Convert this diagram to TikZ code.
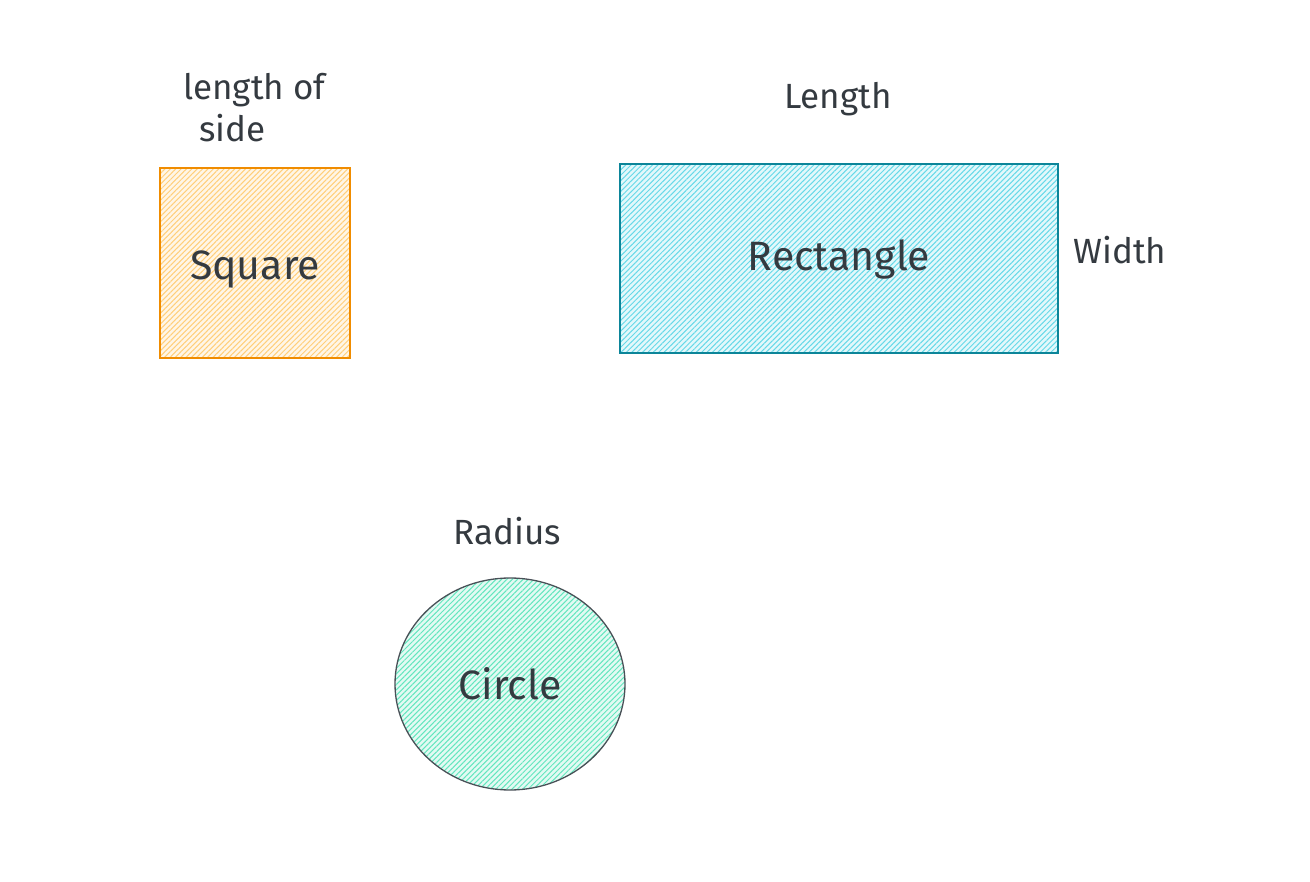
\documentclass[tikz,border=0pt]{standalone}
\usepackage{fontspec}
\setmainfont{Fira Sans}
\usetikzlibrary{patterns.meta,shapes.geometric}
\definecolor{txt}{HTML}{343A40}
\definecolor{sqstroke}{HTML}{F08C00}
\definecolor{sqfill}{HTML}{FFCF7A}
\definecolor{rcstroke}{HTML}{0C8599}
\definecolor{rcfill}{HTML}{66D9E8}
\definecolor{cistroke}{HTML}{495057}
\definecolor{cifill}{HTML}{63E6BE}
\tikzset{
  shapebox/.style={draw=#1stroke, line width=1.3pt, preaction={fill=#1fill!18}, pattern={Lines[angle=45,distance=3.8pt,line width=1pt]}, pattern color=#1fill, inner sep=0pt, outer sep=0pt},
  bigtxt/.style={text=txt, font=\fontsize{41}{48}\selectfont},
  lbl/.style={text=txt, font=\fontsize{35}{42}\selectfont, inner sep=0pt}
}
\begin{document}
\begin{tikzpicture}[x=1pt,y=-1pt]
\useasboundingbox (0,0) rectangle (1310,882);
\node[shapebox=sq, minimum width=190pt, minimum height=190pt] (square) at (255,263) {};
\node[bigtxt] (squaretxt) at ([yshift=-6pt]square.center) {Square};
\node[shapebox=rc, minimum width=438pt, minimum height=189pt] (rect) at (839,258.5) {};
\node[bigtxt] (recttxt) at ([yshift=-1pt]rect.center) {Rectangle};
\node[shapebox=ci, ellipse, minimum width=230pt, minimum height=212pt] (circ) at (510,684) {};
\node[bigtxt] (circtxt) at (circ.center) {Circle};
\node[lbl, align=left, anchor=north west] (side) at (183,73) {length of\\\hspace*{16pt}side};
\node[lbl] (len) at (838,99) {Length};
\node[lbl] (wid) at (1120,250) {Width};
\node[lbl] (rad) at (507,531) {Radius};
\end{tikzpicture}
\end{document}
